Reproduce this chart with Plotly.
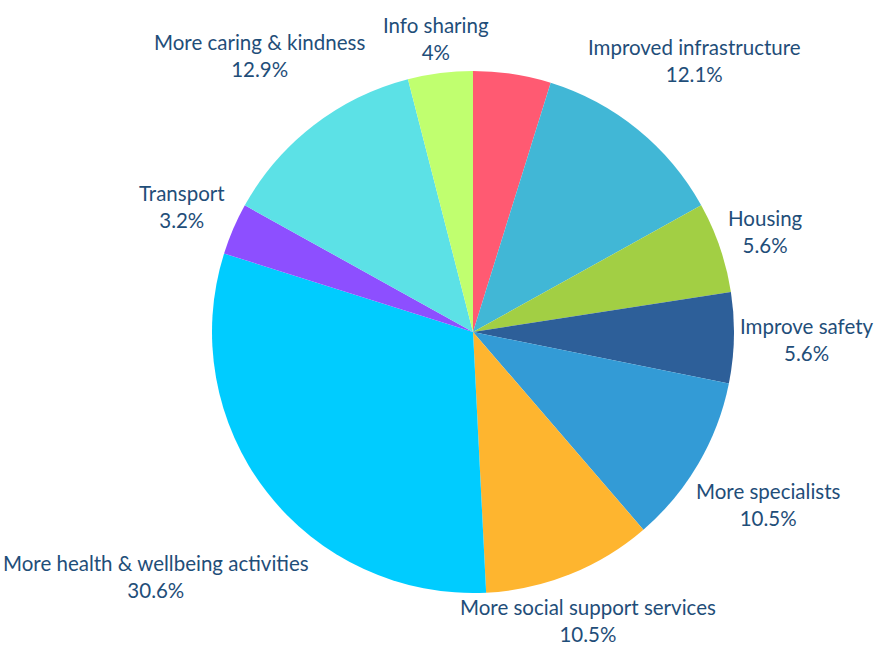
import math
import plotly.graph_objects as go

# Survey responses: share of mentions per improvement theme (percent)
labels = [
    "Other",
    "Improved infrastructure",
    "Housing",
    "Improve safety",
    "More specialists",
    "More social support services",
    "More health & wellbeing activities",
    "Transport",
    "More caring & kindness",
    "Info sharing",
]
values = [4.8, 12.1, 5.6, 5.6, 10.5, 10.5, 30.6, 3.2, 12.9, 4]
show_label = [False, True, True, True, True, True, True, True, True, True]
colors = [
    "#ff5a72", "#41b7d6", "#a2cf44", "#2d5f99", "#339bd6",
    "#feb52f", "#00ccff", "#8d4fff", "#5ce1e6", "#c0ff6f",
]

FIG_W, FIG_H = 877, 646
M_L, M_R, M_T, M_B = 212, 143, 71, 53
PLOT_W = FIG_W - M_L - M_R
PLOT_H = FIG_H - M_T - M_B
CX = M_L + PLOT_W / 2
CY = M_T + PLOT_H / 2
RADIUS = min(PLOT_W, PLOT_H) / 2

FONT = "Lato"
FONT_SIZE = 20.5
TEXT_COLOR = "#1f4e79"
HALF_H = 22
LABEL_RING = RADIUS + 7
EDGE_PAD = 4

# Rough advance widths (in em) used to size each label box
_NARROW = set("iljI.,'")
_SEMI = set("frt ")
_WIDE = set("mwMW%&")


def text_width(s):
    total = 0.0
    for ch in s:
        if ch in _NARROW:
            total += 0.25
        elif ch in _SEMI:
            total += 0.34 if ch != " " else 0.2
        elif ch in _WIDE:
            total += 0.8
        elif ch.isupper():
            total += 0.64
        elif ch.isdigit():
            total += 0.58
        else:
            total += 0.52
    return total * FONT_SIZE


fig = go.Figure(
    go.Pie(
        labels=labels,
        values=values,
        sort=False,
        direction="clockwise",
        rotation=0,
        marker=dict(colors=colors, line=dict(width=0)),
        textinfo="none",
        hoverinfo="label+value",
        showlegend=False,
        domain=dict(x=[0, 1], y=[0, 1]),
    )
)

# Labels sit outside each slice along its mid-angle, pushed out by the text box
# size and pulled back along the same ray if they would leave the figure
total = sum(values)
annotations = []
cum = 0.0
for name, val, show in zip(labels, values, show_label):
    mid = (cum + val / 2) / total * 2 * math.pi
    cum += val
    if not show:
        continue
    s, c = math.sin(mid), math.cos(mid)
    pct = f"{val:g}%"
    w = max(text_width(name), text_width(pct))
    d = LABEL_RING + abs(s) * w / 2 + abs(c) * HALF_H
    limits = []
    if s > 1e-6:
        limits.append((FIG_W - w / 2 - EDGE_PAD - CX) / s)
    elif s < -1e-6:
        limits.append((CX - w / 2 - EDGE_PAD) / -s)
    if c > 1e-6:
        limits.append((CY - HALF_H - EDGE_PAD) / c)
    elif c < -1e-6:
        limits.append((FIG_H - HALF_H - EDGE_PAD - CY) / -c)
    d = min([d] + limits)
    px = CX + d * s
    py = CY - d * c
    annotations.append(
        dict(
            x=(px - M_L) / PLOT_W,
            y=(FIG_H - M_B - py) / PLOT_H,
            xref="paper",
            yref="paper",
            xanchor="center",
            yanchor="middle",
            align="center",
            showarrow=False,
            text=f"{name}<br>{pct}",
            font=dict(family=FONT, size=FONT_SIZE, color=TEXT_COLOR),
        )
    )

fig.update_layout(
    width=FIG_W,
    height=FIG_H,
    margin=dict(l=M_L, r=M_R, t=M_T, b=M_B, autoexpand=False),
    paper_bgcolor="white",
    plot_bgcolor="white",
    annotations=annotations,
    font=dict(family=FONT, color=TEXT_COLOR),
)

fig.write_html("out.html")
